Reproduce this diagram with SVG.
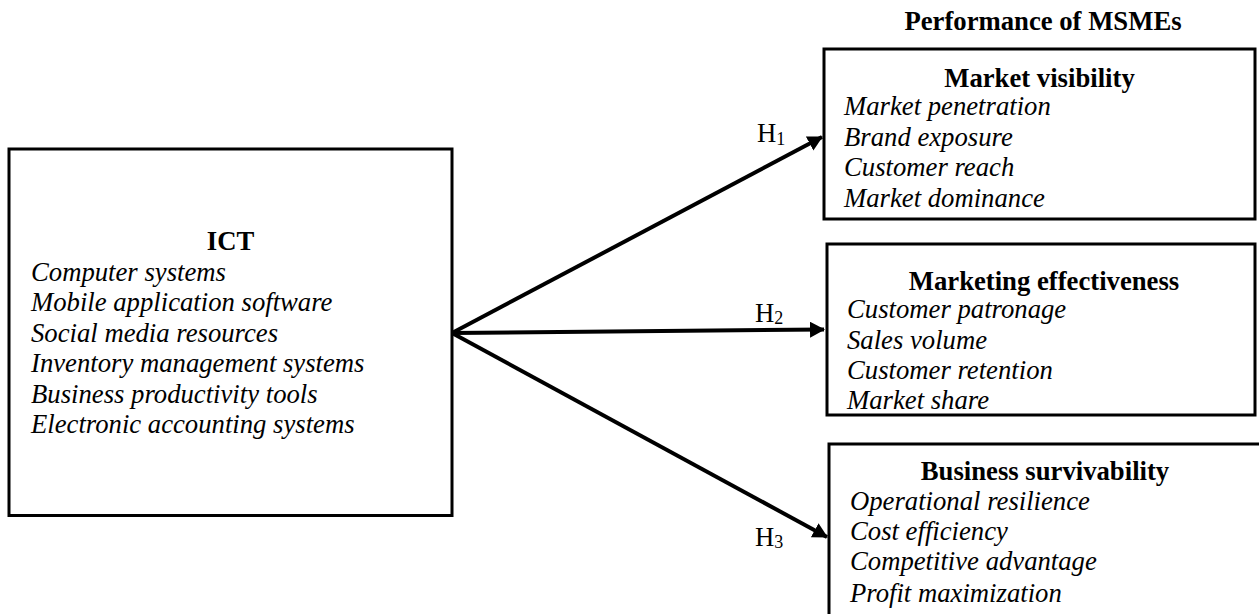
<svg xmlns="http://www.w3.org/2000/svg" width="1259" height="614" viewBox="0 0 1259 614">
<style>
.box{fill:#fff;stroke:#000;stroke-width:3}
.t{font-family:"Liberation Serif","Times New Roman",serif;font-size:26.7px;fill:#000}
.b{font-weight:bold;text-anchor:middle}
.i{font-style:italic}
.c{stroke:#000;stroke-width:4;fill:none}
.sub{font-size:18px}
</style>
<defs>
<marker id="ah" markerUnits="userSpaceOnUse" markerWidth="15" markerHeight="16" refX="14" refY="8" orient="auto">
<path d="M0,0 L15,8 L0,16 z" fill="#000"/>
</marker>
</defs>
<rect width="1259" height="614" fill="#fff"/>
<text class="t b" x="1043" y="30">Performance of MSMEs</text>
<g id="ict">
<rect class="box" x="9" y="149" width="443" height="366.5"/>
<text class="t b" x="230.5" y="250">ICT</text>
<text class="t i" x="31" y="280.7">Computer systems</text>
<text class="t i" x="31" y="311">Mobile application software</text>
<text class="t i" x="31" y="341.5">Social media resources</text>
<text class="t i" x="31" y="372">Inventory management systems</text>
<text class="t i" x="31" y="402.5">Business productivity tools</text>
<text class="t i" x="31" y="433.3">Electronic accounting systems</text>
</g>
<g id="market-visibility">
<rect class="box" x="824" y="49" width="431" height="170"/>
<text class="t b" x="1039.5" y="87">Market visibility</text>
<text class="t i" x="844" y="115">Market penetration</text>
<text class="t i" x="844" y="145.7">Brand exposure</text>
<text class="t i" x="844" y="176">Customer reach</text>
<text class="t i" x="844" y="206.7">Market dominance</text>
</g>
<g id="marketing-effectiveness">
<rect class="box" x="827" y="244" width="428" height="171"/>
<text class="t b" x="1044" y="290">Marketing effectiveness</text>
<text class="t i" x="847" y="318">Customer patronage</text>
<text class="t i" x="847" y="348.5">Sales volume</text>
<text class="t i" x="847" y="378.5">Customer retention</text>
<text class="t i" x="847" y="409">Market share</text>
</g>
<g id="business-survivability">
<rect class="box" x="829" y="444" width="440" height="200"/>
<text class="t b" x="1045" y="480">Business survivability</text>
<text class="t i" x="850" y="510">Operational resilience</text>
<text class="t i" x="850" y="540">Cost efficiency</text>
<text class="t i" x="850" y="570">Competitive advantage</text>
<text class="t i" x="850" y="602">Profit maximization</text>
</g>
<g id="connectors">
<line class="c" x1="452" y1="333" x2="822" y2="137" marker-end="url(#ah)"/>
<line class="c" x1="452" y1="333" x2="824" y2="329.5" marker-end="url(#ah)"/>
<line class="c" x1="452" y1="333" x2="827" y2="537" marker-end="url(#ah)"/>
<text class="t" x="757" y="142">H<tspan class="sub" dy="3">1</tspan></text>
<text class="t" x="755" y="322">H<tspan class="sub" dy="2">2</tspan></text>
<text class="t" x="755" y="546">H<tspan class="sub" dy="2">3</tspan></text>
</g>
</svg>
